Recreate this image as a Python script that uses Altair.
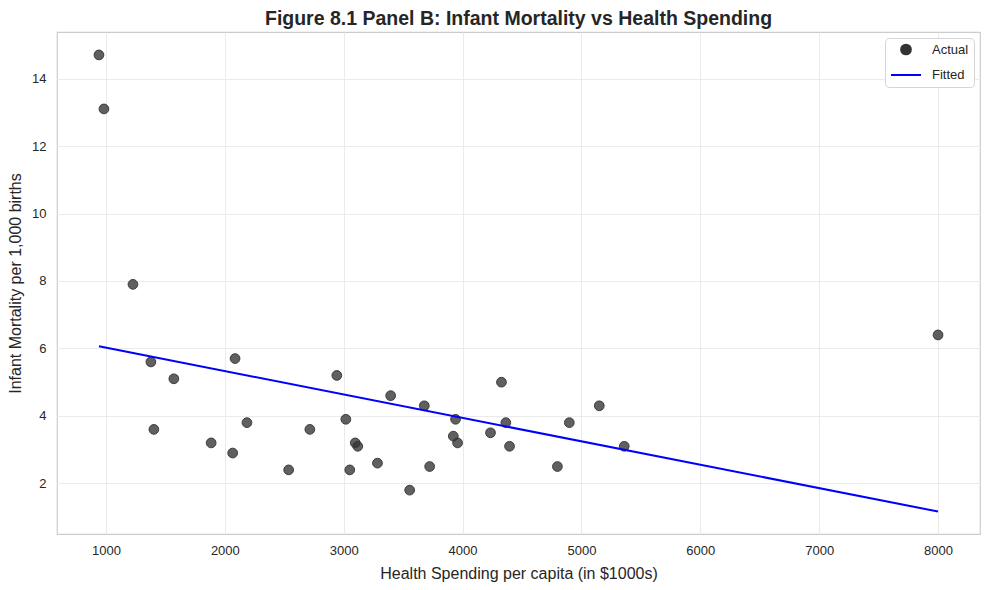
import altair as alt
import pandas as pd

spending = [941, 983, 1227, 1378, 1403, 1571, 1885, 2066, 2086, 2186,
            2537, 2715, 2942, 3018, 3051, 3097, 3118, 3284, 3395, 3555,
            3678, 3723, 3922, 3941, 3958, 4235, 4327, 4364, 4395, 4798,
            4898, 5150, 5360, 8000]
mortality = [14.7, 13.1, 7.9, 5.6, 3.6, 5.1, 3.2, 2.9, 5.7, 3.8,
             2.4, 3.6, 5.2, 3.9, 2.4, 3.2, 3.1, 2.6, 4.6, 1.8,
             4.3, 2.5, 3.4, 3.9, 3.2, 3.5, 5.0, 3.8, 3.1, 2.5,
             3.8, 4.3, 3.1, 6.4]
series_names = ["Actual", "Fitted"]
series_colors = ["#333333", "#0000ff"]
x_ticks = [1000, 2000, 3000, 4000, 5000, 6000, 7000, 8000]
y_ticks = [2, 4, 6, 8, 10, 12, 14]

df = pd.DataFrame({"x": spending, "y": mortality, "series": "Actual"})

FONT = "Liberation Sans"

xscale = alt.Scale(domain=[588, 8353], nice=False, zero=False)
yscale = alt.Scale(domain=[0.5, 15.38], nice=False, zero=False)
leg = alt.Legend(title=None, orient="top-right")
color = alt.Color("series:N",
                  scale=alt.Scale(domain=series_names, range=series_colors),
                  legend=leg)
shape = alt.Shape("series:N",
                  scale=alt.Scale(domain=series_names, range=["circle", "stroke"]),
                  legend=leg)
size = alt.Size("series:N",
                scale=alt.Scale(domain=series_names, range=[95, 900]),
                legend=leg)

xenc = alt.X("x:Q", scale=xscale,
             axis=alt.Axis(values=x_ticks, title="Health Spending per capita (in $1000s)",
                           format="d"))
yenc = alt.Y("y:Q", scale=yscale,
             axis=alt.Axis(values=y_ticks, title="Infant Mortality per 1,000 births"))

points = alt.Chart(df).mark_point(
    filled=False, fill="#333333", fillOpacity=0.78,
    strokeWidth=1, strokeOpacity=0.9
).encode(x=xenc, y=yenc, color=color, shape=shape, size=size)

line = alt.Chart(df).transform_regression(
    "x", "y"
).transform_calculate(series="'Fitted'").mark_line(strokeWidth=2).encode(
    x=alt.X("x:Q", scale=xscale), y=alt.Y("y:Q", scale=yscale), color=color
)

chart = alt.layer(points, line).properties(
    width=923, height=502,
    autosize=alt.AutoSizeParams(type="none"),
    padding={"left": 49, "top": 24, "right": 1, "bottom": 48},
    title=alt.Title("Figure 8.1 Panel B: Infant Mortality vs Health Spending",
                    font=FONT, fontSize=19.5, fontWeight="bold", color="#262626",
                    anchor="middle", offset=3),
).configure_view(
    stroke="#cccccc", strokeWidth=1.2
).configure_axis(
    grid=True, gridColor="#ebebeb", gridWidth=1, domain=False, ticks=False,
    labelFont=FONT, labelFontSize=13, labelColor="#262626", labelPadding=10,
    titleFont=FONT, titleFontSize=16, titleFontWeight="normal", titleColor="#262626",
).configure_axisY(
    labelPadding=11, titlePadding=8
).configure_axisX(
    titlePadding=8
).configure_legend(
    labelFont=FONT, labelFontSize=13, labelColor="#262626",
    strokeColor="#d5d5d5", fillColor="white", cornerRadius=4,
    padding=5, offset=6, symbolStrokeWidth=2, labelOffset=10,
    symbolFillColor="#555555", rowPadding=-15
)

chart.save("out.html", embed_options={"renderer": "svg", "actions": False})
